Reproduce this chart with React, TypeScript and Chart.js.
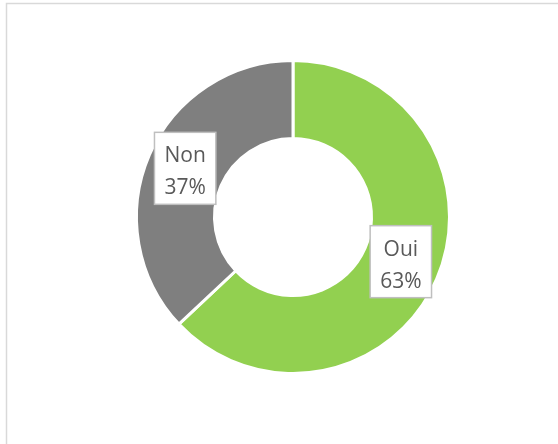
import React, { useEffect, useRef } from "react";
import { Chart, registerables } from "chart.js";

Chart.register(...registerables);

const categories = ["Oui", "Non"];
const values = [63, 37];
const percentLabels = ["63%", "37%"];
const colors = ["#92D050", "#7F7F7F"];

const FONT = "21px 'Open Sans'";

const framePlugin = {
  id: "frame",
  afterDraw(chart: any) {
    const ctx = chart.ctx;
    ctx.save();
    ctx.strokeStyle = "#D9D9D9";
    ctx.lineWidth = 1.5;
    ctx.beginPath();
    ctx.moveTo(6.5, chart.height + 2);
    ctx.lineTo(6.5, 3.5);
    ctx.lineTo(chart.width + 2, 3.5);
    ctx.stroke();
    ctx.restore();
  },
};

const labelPlugin = {
  id: "boxLabels",
  afterDatasetsDraw(chart: any) {
    const ctx = chart.ctx;
    const meta = chart.getDatasetMeta(0);
    ctx.save();
    ctx.font = FONT;
    meta.data.forEach((arc: any, i: number) => {
      const pos = arc.tooltipPosition();
      const lines = [categories[i], percentLabels[i]];
      const w = Math.max(...lines.map((l) => ctx.measureText(l).width)) + 20;
      const h = 72;
      const x = pos.x - w / 2;
      const y = pos.y - 2 - h / 2;
      ctx.fillStyle = "#FFFFFF";
      ctx.fillRect(x, y, w, h);
      ctx.strokeStyle = "#BFBFBF";
      ctx.lineWidth = 1.5;
      ctx.strokeRect(x, y, w, h);
      ctx.fillStyle = "#595959";
      ctx.textAlign = "center";
      ctx.textBaseline = "alphabetic";
      ctx.fillText(lines[0], pos.x, y + 30);
      ctx.fillText(lines[1], pos.x, y + 62);
    });
    ctx.restore();
  },
};

export default function App() {
  const ref = useRef<HTMLCanvasElement>(null);
  useEffect(() => {
    let chart: Chart | null = null;
    let cancelled = false;
    const make = () => {
      if (cancelled || !ref.current) return;
      chart = new Chart(ref.current, {
        type: "doughnut",
        data: {
          labels: categories,
          datasets: [
            {
              data: values,
              backgroundColor: colors,
              borderColor: "#FFFFFF",
              borderWidth: 3,
              radius: 156.5,
              cutout: 77,
            } as any,
          ],
        },
        options: {
          responsive: false,
          animation: false,
          layout: { padding: { left: 138, right: 110, top: 62, bottom: 72 } },
          plugins: {
            legend: { display: false },
            tooltip: { enabled: false },
          },
        },
        plugins: [framePlugin, labelPlugin],
      });
    };
    (document as any).fonts
      .load(FONT)
      .then(make, make);
    return () => {
      cancelled = true;
      if (chart) chart.destroy();
    };
  }, []);
  return (
    <div style={{ position: "fixed", left: 0, top: 0, width: 558, height: 444, overflow: "hidden" }}>
      <canvas ref={ref} width={558} height={444} style={{ display: "block" }} />
    </div>
  );
}
